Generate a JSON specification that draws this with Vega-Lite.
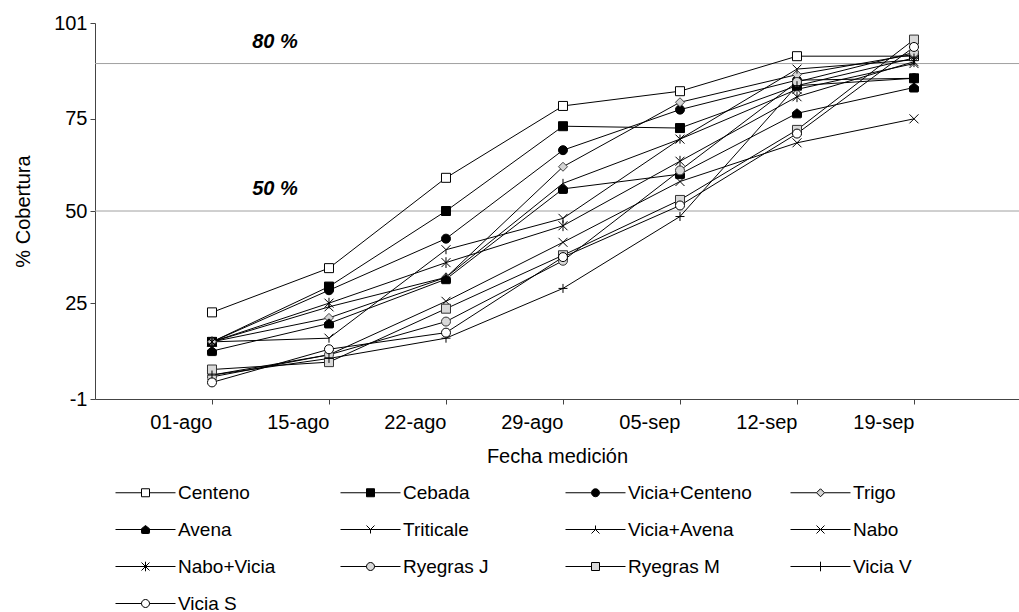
{
  "$schema": "https://vega.github.io/schema/vega-lite/v6.json",
  "width": 924,
  "height": 376,
  "autosize": "none",
  "padding": {"left": 95, "top": 23, "right": 0, "bottom": 213},
  "background": "white",
  "config": {
    "view": {"stroke": null},
    "font": "Liberation Sans",
    "legend": {
      "labelFont": "Liberation Sans",
      "labelFontSize": 19,
      "labelColor": "black",
      "symbolStrokeWidth": 1,
      "symbolSize": 64,
      "symbolStrokeColor": "black",
      "symbolOpacity": 1,
      "columns": 4,
      "direction": "horizontal",
      "gridAlign": "all",
      "columnPadding": 33,
      "rowPadding": 17,
      "labelOffset": 23,
      "symbolOffset": 26,
      "labelLimit": 300
    }
  },
  "datasets": {
    "cov": [
      {"fecha": "01-ago", "serie": "Centeno", "cobertura": 22.5},
      {"fecha": "15-ago", "serie": "Centeno", "cobertura": 34.5},
      {"fecha": "22-ago", "serie": "Centeno", "cobertura": 59},
      {"fecha": "29-ago", "serie": "Centeno", "cobertura": 78.5},
      {"fecha": "05-sep", "serie": "Centeno", "cobertura": 82.5},
      {"fecha": "12-sep", "serie": "Centeno", "cobertura": 92},
      {"fecha": "19-sep", "serie": "Centeno", "cobertura": 92},
      {"fecha": "01-ago", "serie": "Cebada", "cobertura": 14.5},
      {"fecha": "15-ago", "serie": "Cebada", "cobertura": 29.5},
      {"fecha": "22-ago", "serie": "Cebada", "cobertura": 50},
      {"fecha": "29-ago", "serie": "Cebada", "cobertura": 73},
      {"fecha": "05-sep", "serie": "Cebada", "cobertura": 72.5},
      {"fecha": "12-sep", "serie": "Cebada", "cobertura": 84},
      {"fecha": "19-sep", "serie": "Cebada", "cobertura": 86},
      {"fecha": "01-ago", "serie": "Vicia+Centeno", "cobertura": 14.5},
      {"fecha": "15-ago", "serie": "Vicia+Centeno", "cobertura": 28.5},
      {"fecha": "22-ago", "serie": "Vicia+Centeno", "cobertura": 42.5},
      {"fecha": "29-ago", "serie": "Vicia+Centeno", "cobertura": 66.5},
      {"fecha": "05-sep", "serie": "Vicia+Centeno", "cobertura": 77.5},
      {"fecha": "12-sep", "serie": "Vicia+Centeno", "cobertura": 85.5},
      {"fecha": "19-sep", "serie": "Vicia+Centeno", "cobertura": 86},
      {"fecha": "01-ago", "serie": "Trigo", "cobertura": 14.5},
      {"fecha": "15-ago", "serie": "Trigo", "cobertura": 21},
      {"fecha": "22-ago", "serie": "Trigo", "cobertura": 32},
      {"fecha": "29-ago", "serie": "Trigo", "cobertura": 62},
      {"fecha": "05-sep", "serie": "Trigo", "cobertura": 79.5},
      {"fecha": "12-sep", "serie": "Trigo", "cobertura": 87},
      {"fecha": "19-sep", "serie": "Trigo", "cobertura": 92.5},
      {"fecha": "01-ago", "serie": "Avena", "cobertura": 12},
      {"fecha": "15-ago", "serie": "Avena", "cobertura": 19.5},
      {"fecha": "22-ago", "serie": "Avena", "cobertura": 31.5},
      {"fecha": "29-ago", "serie": "Avena", "cobertura": 56},
      {"fecha": "05-sep", "serie": "Avena", "cobertura": 60},
      {"fecha": "12-sep", "serie": "Avena", "cobertura": 76.5},
      {"fecha": "19-sep", "serie": "Avena", "cobertura": 83.5},
      {"fecha": "01-ago", "serie": "Triticale", "cobertura": 14.5},
      {"fecha": "15-ago", "serie": "Triticale", "cobertura": 15.5},
      {"fecha": "22-ago", "serie": "Triticale", "cobertura": 39.5},
      {"fecha": "29-ago", "serie": "Triticale", "cobertura": 48},
      {"fecha": "05-sep", "serie": "Triticale", "cobertura": 69.5},
      {"fecha": "12-sep", "serie": "Triticale", "cobertura": 88.5},
      {"fecha": "19-sep", "serie": "Triticale", "cobertura": 91},
      {"fecha": "01-ago", "serie": "Vicia+Avena", "cobertura": 14.5},
      {"fecha": "15-ago", "serie": "Vicia+Avena", "cobertura": 24},
      {"fecha": "22-ago", "serie": "Vicia+Avena", "cobertura": 32},
      {"fecha": "29-ago", "serie": "Vicia+Avena", "cobertura": 57.5},
      {"fecha": "05-sep", "serie": "Vicia+Avena", "cobertura": 69.5},
      {"fecha": "12-sep", "serie": "Vicia+Avena", "cobertura": 83},
      {"fecha": "19-sep", "serie": "Vicia+Avena", "cobertura": 90},
      {"fecha": "01-ago", "serie": "Nabo", "cobertura": 5.5},
      {"fecha": "15-ago", "serie": "Nabo", "cobertura": 11},
      {"fecha": "22-ago", "serie": "Nabo", "cobertura": 25.5},
      {"fecha": "29-ago", "serie": "Nabo", "cobertura": 41.5},
      {"fecha": "05-sep", "serie": "Nabo", "cobertura": 58},
      {"fecha": "12-sep", "serie": "Nabo", "cobertura": 68.5},
      {"fecha": "19-sep", "serie": "Nabo", "cobertura": 75},
      {"fecha": "01-ago", "serie": "Nabo+Vicia", "cobertura": 14.5},
      {"fecha": "15-ago", "serie": "Nabo+Vicia", "cobertura": 25},
      {"fecha": "22-ago", "serie": "Nabo+Vicia", "cobertura": 36},
      {"fecha": "29-ago", "serie": "Nabo+Vicia", "cobertura": 46},
      {"fecha": "05-sep", "serie": "Nabo+Vicia", "cobertura": 63.5},
      {"fecha": "12-sep", "serie": "Nabo+Vicia", "cobertura": 81},
      {"fecha": "19-sep", "serie": "Nabo+Vicia", "cobertura": 90.5},
      {"fecha": "01-ago", "serie": "Ryegras J", "cobertura": 5},
      {"fecha": "15-ago", "serie": "Ryegras J", "cobertura": 11},
      {"fecha": "22-ago", "serie": "Ryegras J", "cobertura": 20},
      {"fecha": "29-ago", "serie": "Ryegras J", "cobertura": 36.5},
      {"fecha": "05-sep", "serie": "Ryegras J", "cobertura": 61},
      {"fecha": "12-sep", "serie": "Ryegras J", "cobertura": 85},
      {"fecha": "19-sep", "serie": "Ryegras J", "cobertura": 93},
      {"fecha": "01-ago", "serie": "Ryegras M", "cobertura": 7},
      {"fecha": "15-ago", "serie": "Ryegras M", "cobertura": 9},
      {"fecha": "22-ago", "serie": "Ryegras M", "cobertura": 23.5},
      {"fecha": "29-ago", "serie": "Ryegras M", "cobertura": 38},
      {"fecha": "05-sep", "serie": "Ryegras M", "cobertura": 53},
      {"fecha": "12-sep", "serie": "Ryegras M", "cobertura": 72},
      {"fecha": "19-sep", "serie": "Ryegras M", "cobertura": 96.5},
      {"fecha": "01-ago", "serie": "Vicia V", "cobertura": 5.5},
      {"fecha": "15-ago", "serie": "Vicia V", "cobertura": 10},
      {"fecha": "22-ago", "serie": "Vicia V", "cobertura": 15.5},
      {"fecha": "29-ago", "serie": "Vicia V", "cobertura": 29},
      {"fecha": "05-sep", "serie": "Vicia V", "cobertura": 48.5},
      {"fecha": "12-sep", "serie": "Vicia V", "cobertura": 84},
      {"fecha": "19-sep", "serie": "Vicia V", "cobertura": 91.5},
      {"fecha": "01-ago", "serie": "Vicia S", "cobertura": 3.5},
      {"fecha": "15-ago", "serie": "Vicia S", "cobertura": 12.5},
      {"fecha": "22-ago", "serie": "Vicia S", "cobertura": 17},
      {"fecha": "29-ago", "serie": "Vicia S", "cobertura": 37.5},
      {"fecha": "05-sep", "serie": "Vicia S", "cobertura": 51.5},
      {"fecha": "12-sep", "serie": "Vicia S", "cobertura": 71},
      {"fecha": "19-sep", "serie": "Vicia S", "cobertura": 94.5}
    ],
    "refs": [
      {"nivel": 90, "etiqueta": "80 %"},
      {"nivel": 50, "etiqueta": "50 %"}
    ]
  },
  "resolve": {"scale": {"shape": "independent", "fill": "independent", "stroke": "independent"}},
  "layer": [
    {
      "data": {"name": "refs"},
      "mark": {"type": "rule", "color": "#a0a0a0", "strokeWidth": 1},
      "encoding": {
        "y": {"field": "nivel", "type": "quantitative"}
      }
    },
    {
      "data": {"name": "refs"},
      "mark": {"type": "text", "font": "Liberation Sans", "fontSize": 20, "fontWeight": "bold", "fontStyle": "italic", "color": "black", "dx": 63, "dy": -22, "align": "center", "baseline": "middle"},
      "encoding": {
        "x": {"datum": "01-ago", "type": "ordinal"},
        "y": {"field": "nivel", "type": "quantitative"},
        "text": {"field": "etiqueta"}
      }
    },
    {
      "data": {"name": "cov"},
      "mark": {"type": "line", "color": "black", "strokeWidth": 1},
      "encoding": {
        "x": {
          "field": "fecha", "type": "ordinal", "sort": null,
          "scale": {"type": "point", "domain": ["01-ago", "15-ago", "22-ago", "29-ago", "05-sep", "12-sep", "19-sep"], "padding": 0.9487, "align": 0.527},
          "axis": {"title": "Fecha medición", "titleFont": "Liberation Sans", "titleFontSize": 20, "titleFontWeight": "normal", "titleColor": "black", "titlePadding": 14, "labelFont": "Liberation Sans", "labelFontSize": 20, "labelColor": "black", "labelAngle": 0, "labelPadding": 18, "tickSize": 5, "tickColor": "#444", "domainColor": "#444", "grid": false}
        },
        "y": {
          "field": "cobertura", "type": "quantitative",
          "scale": {"domain": [-1, 101], "nice": false, "zero": false},
          "axis": {"title": "%  Cobertura", "values": [-1, 25, 50, 75, 101], "labelExpr": "replace(datum.label, '\u2212', '-')", "titleFont": "Liberation Sans", "titleFontSize": 20, "titleFontWeight": "normal", "titleColor": "black", "titlePadding": 20, "labelFont": "Liberation Sans", "labelFontSize": 20, "labelColor": "black", "labelPadding": 3, "tickSize": 5, "tickColor": "#444", "domainColor": "#444", "grid": false}
        },
        "detail": {"field": "serie"}
      }
    },
    {
      "data": {"name": "cov"},
      "mark": {"type": "point", "filled": true, "strokeWidth": 1, "opacity": 1},
      "encoding": {
        "x": {"field": "fecha", "type": "ordinal", "sort": null},
        "y": {"field": "cobertura", "type": "quantitative"},
        "shape": {
          "field": "serie", "type": "nominal", "legend": null,
          "scale": {
            "domain": ["Centeno", "Cebada", "Vicia+Centeno", "Trigo", "Avena", "Triticale", "Vicia+Avena", "Nabo", "Nabo+Vicia", "Ryegras J", "Ryegras M", "Vicia V", "Vicia S"],
            "range": [
              "M-1,-1L1,-1L1,1L-1,1Z",
              "M-1,-1L1,-1L1,1L-1,1Z",
              "M-1,0A1,1,0,1,0,1,0A1,1,0,1,0,-1,0Z",
              "M0,-1L1,0L0,1L-1,0Z",
              "M0,-1L1,-0.2L1,0.8Q1,1,0.8,1L-0.8,1Q-1,1,-1,0.8L-1,-0.2Z",
              "M-1,-1L0,0L1,-1M0,0L0,1",
              "M0,-1L0,0M-1,1L0,0L1,1",
              "M-1,-1L1,1M-1,1L1,-1",
              "M-1,-1L1,1M-1,1L1,-1M0,-1.2L0,1.2",
              "M-1,0A1,1,0,1,0,1,0A1,1,0,1,0,-1,0Z",
              "M-1,-1L1,-1L1,1L-1,1Z",
              "M0,-1L0,1M-1,0L1,0",
              "M-1,0A1,1,0,1,0,1,0A1,1,0,1,0,-1,0Z"
            ]
          }
        },
        "fill": {
          "field": "serie", "type": "nominal", "legend": null,
          "scale": {
            "domain": ["Centeno", "Cebada", "Vicia+Centeno", "Trigo", "Avena", "Triticale", "Vicia+Avena", "Nabo", "Nabo+Vicia", "Ryegras J", "Ryegras M", "Vicia V", "Vicia S"],
            "range": ["white", "black", "black", "#d4d4d4", "black", "transparent", "transparent", "transparent", "transparent", "#d9d9d9", "#d9d9d9", "transparent", "white"]
          }
        },
        "stroke": {
          "field": "serie", "type": "nominal", "legend": null,
          "scale": {
            "domain": ["Centeno", "Cebada", "Vicia+Centeno", "Trigo", "Avena", "Triticale", "Vicia+Avena", "Nabo", "Nabo+Vicia", "Ryegras J", "Ryegras M", "Vicia V", "Vicia S"],
            "range": ["black", "black", "black", "#444", "black", "black", "black", "black", "black", "#333", "#333", "black", "black"]
          }
        },
        "size": {
          "field": "serie", "type": "nominal", "legend": null,
          "scale": {
            "domain": ["Centeno", "Cebada", "Vicia+Centeno", "Trigo", "Avena", "Triticale", "Vicia+Avena", "Nabo", "Nabo+Vicia", "Ryegras J", "Ryegras M", "Vicia V", "Vicia S"],
            "range": [81, 81, 64, 100, 90, 100, 100, 100, 100, 110, 100, 130, 64]
          }
        }
      }
    },
    {
      "data": {"name": "cov"},
      "transform": [{"filter": "datum.cobertura > 1000"}],
      "mark": {"type": "point", "filled": true, "strokeWidth": 1, "size": 64, "opacity": 1},
      "encoding": {
        "shape": {
          "field": "serie", "type": "nominal",
          "legend": {"title": null, "orient": "none", "legendX": 15, "legendY": 460, "direction": "horizontal", "columns": 4},
          "scale": {
            "domain": ["Centeno", "Cebada", "Vicia+Centeno", "Trigo", "Avena", "Triticale", "Vicia+Avena", "Nabo", "Nabo+Vicia", "Ryegras J", "Ryegras M", "Vicia V", "Vicia S"],
            "range": [
              "M-7.5,0L-1,0M1,0L7.5,0M-1,-1L1,-1L1,1L-1,1Z",
              "M-7.5,0L-1,0M1,0L7.5,0M-1,-1L1,-1L1,1L-1,1Z",
              "M-7.5,0L-1,0M1,0L7.5,0M-1,0A1,1,0,1,0,1,0A1,1,0,1,0,-1,0Z",
              "M-7.5,0L-1,0M1,0L7.5,0M0,-1L1,0L0,1L-1,0Z",
              "M-7.5,0L-1,0M1,0L7.5,0M0,-1L1,-0.2L1,0.8Q1,1,0.8,1L-0.8,1Q-1,1,-1,0.8L-1,-0.2Z",
              "M-7.5,0L7.5,0M-1,-1L0,0L1,-1M0,0L0,1",
              "M-7.5,0L7.5,0M0,-1L0,0M-1,1L0,0L1,1",
              "M-7.5,0L7.5,0M-1,-1L1,1M-1,1L1,-1",
              "M-7.5,0L7.5,0M-1,-1L1,1M-1,1L1,-1M0,-1.2L0,1.2",
              "M-7.5,0L-1,0M1,0L7.5,0M-1,0A1,1,0,1,0,1,0A1,1,0,1,0,-1,0Z",
              "M-7.5,0L-1,0M1,0L7.5,0M-1,-1L1,-1L1,1L-1,1Z",
              "M-7.5,0L7.5,0M0,-1.2L0,1.2",
              "M-7.5,0L-1,0M1,0L7.5,0M-1,0A1,1,0,1,0,1,0A1,1,0,1,0,-1,0Z"
            ]
          }
        },
        "fill": {
          "field": "serie", "type": "nominal",
          "scale": {
            "domain": ["Centeno", "Cebada", "Vicia+Centeno", "Trigo", "Avena", "Triticale", "Vicia+Avena", "Nabo", "Nabo+Vicia", "Ryegras J", "Ryegras M", "Vicia V", "Vicia S"],
            "range": ["white", "black", "black", "#d4d4d4", "black", "transparent", "transparent", "transparent", "transparent", "#d9d9d9", "#d9d9d9", "transparent", "white"]
          }
        },
        "stroke": {
          "field": "serie", "type": "nominal",
          "scale": {
            "domain": ["Centeno", "Cebada", "Vicia+Centeno", "Trigo", "Avena", "Triticale", "Vicia+Avena", "Nabo", "Nabo+Vicia", "Ryegras J", "Ryegras M", "Vicia V", "Vicia S"],
            "range": ["black", "black", "black", "black", "black", "black", "black", "black", "black", "black", "black", "black", "black"]
          }
        }
      }
    }
  ]
}
